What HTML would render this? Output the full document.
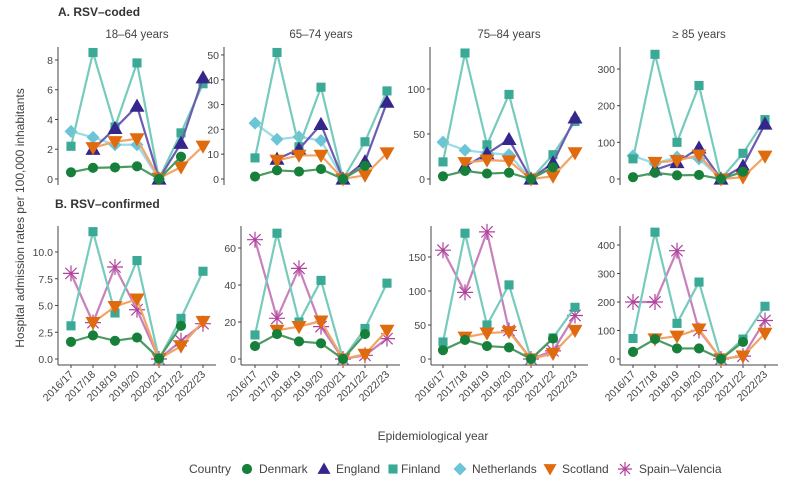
<!DOCTYPE html>
<html><head><meta charset="utf-8">
<style>
html,body{margin:0;padding:0;background:#fff;}
svg{display:block;font-family:"Liberation Sans",sans-serif;}
</style></head>
<body>
<svg id="chart" width="800" height="493" viewBox="0 0 800 493" xmlns="http://www.w3.org/2000/svg">
<text x="58" y="16" font-size="12" font-weight="bold" fill="#333">A. RSV–coded</text>
<text x="55" y="208" font-size="12" font-weight="bold" fill="#333">B. RSV–confirmed</text>
<text transform="translate(24,218) rotate(-90)" text-anchor="middle" font-size="12" fill="#444">Hospital admission rates per 100,000 inhabitants</text>
<text x="433" y="440" text-anchor="middle" font-size="12" fill="#444">Epidemiological year</text>
<g id="plots"></g>
<g id="legend"></g>
</svg>
<script>
const years = ["2016/17","2017/18","2018/19","2019/20","2020/21","2021/22","2022/23"];
const countries = ["Denmark","England","Finland","Netherlands","Scotland","Spain–Valencia"];
const ageGroups = ["18–64 years","65–74 years","75–84 years","≥ 85 years"];

// Row A: RSV-coded
const a1Denmark=[0.45,0.75,0.78,0.85,0,1.5,null];
const a1England=[null,2.0,3.4,4.9,0,2.4,6.8];
const a1Finland=[2.2,8.5,3.5,7.8,0,3.1,6.4];
const a1Netherlands=[3.2,2.8,2.3,2.3,0,null,null];
const a1Scotland=[null,2.1,2.5,2.7,0.05,0.8,2.2];
const a2Denmark=[1,3.5,3,4,0,5.3,null];
const a2England=[null,8,12,22,0,7,31];
const a2Finland=[8.5,51,13,37,0,15,35.5];
const a2Netherlands=[22.5,16,17,15.5,0,null,null];
const a2Scotland=[null,7.5,9.5,9.5,0,1.5,10.5];
const a3Denmark=[3,9,6,7,0,13,null];
const a3England=[null,14,28,44,0,18,68];
const a3Finland=[19,140,38,94,0,27,64];
const a3Netherlands=[41,32,29,27,0,null,null];
const a3Scotland=[null,18,21,20,0,3,29];
const a4Denmark=[5,17,10,11,0,20,null];
const a4England=[null,25,45,85,0,35,150];
const a4Finland=[55,340,100,255,0,70,162];
const a4Netherlands=[63,42,60,55,0,null,null];
const a4Scotland=[null,45,50,65,0,5,62];
// Row B: RSV-confirmed
const b1Denmark=[1.6,2.2,1.7,2.0,0.05,3.1,null];
const b1Finland=[3.1,11.9,4.3,9.2,0,3.8,8.2];
const b1Scotland=[null,3.4,4.9,5.6,0,1.2,3.5];
const b1Spain=[8.0,3.4,8.6,4.6,0,1.7,3.3];
const b2Denmark=[7,13.5,9.5,8.5,0,13.5,null];
const b2Finland=[13,68,20,42.5,0,16.5,41];
const b2Scotland=[null,15.5,17.5,20.5,0,2.5,15.5];
const b2Spain=[64.5,22,49,17.5,0,2,11];
const b3Denmark=[13,28,19,17,0,30,null];
const b3Finland=[25,185,50,109,0,31,76];
const b3Scotland=[null,32,38,40,0,8,42];
const b3Spain=[160,98,187,42,0,12,64];
const b4Denmark=[25,70,37,37,0,60,null];
const b4Finland=[72,445,125,270,0,70,185];
const b4Scotland=[null,70,80,105,0,10,90];
const b4Spain=[200,200,380,100,0,10,135];

const a1Ticks=[0,2,4,6,8], a2Ticks=[0,10,20,30,40,50], a3Ticks=[0,50,100], a4Ticks=[0,100,200,300];
const b1Ticks=[0,2.5,5,7.5,10], b2Ticks=[0,20,40,60], b3Ticks=[0,50,100,150], b4Ticks=[0,100,200,300,400];
const a1Max=8.87,a2Max=53.2,a3Max=146.7,a4Max=360;
const b1Max=12.43,b2Max=71.9,b3Max=195.6,b4Max=466.7;

const style={
 Denmark:{m:"#16803a",l:"#4a9a62",shape:"circle"},
 England:{m:"#34268a",l:"#6b5cb0",shape:"up"},
 Finland:{m:"#3aa996",l:"#76cbbd",shape:"square"},
 Netherlands:{m:"#6cc5d6",l:"#9bdbe6",shape:"diamond"},
 Scotland:{m:"#e06a0e",l:"#f0a567",shape:"down"},
 "Spain–Valencia":{m:"#b0429c",l:"#c880bd",shape:"star"}
};
const NS="http://www.w3.org/2000/svg";
function el(tag,attrs,parent){const e=document.createElementNS(NS,tag);for(const k in attrs)e.setAttribute(k,attrs[k]);parent.appendChild(e);return e;}
function marker(g,shape,x,y,c,sz){
 let e;
 if(shape==="circle") e=el("circle",{cx:x,cy:y,r:sz*0.78,fill:c},g);
 else if(shape==="square") e=el("rect",{x:x-sz*0.7,y:y-sz*0.7,width:sz*1.4,height:sz*1.4,fill:c},g);
 else if(shape==="diamond") e=el("polygon",{points:`${x},${y-sz} ${x+sz},${y} ${x},${y+sz} ${x-sz},${y}`,fill:c},g);
 else if(shape==="up") e=el("polygon",{points:`${x},${y-sz} ${x+sz},${y+sz*0.75} ${x-sz},${y+sz*0.75}`,fill:c},g);
 else if(shape==="down") e=el("polygon",{points:`${x},${y+sz} ${x+sz},${y-sz*0.75} ${x-sz},${y-sz*0.75}`,fill:c},g);
 else {
  const p=[];for(let i=0;i<4;i++){const a=i*Math.PI/4;p.push(`M${x-Math.cos(a)*sz},${y-Math.sin(a)*sz}L${x+Math.cos(a)*sz},${y+Math.sin(a)*sz}`);}
  e=el("path",{d:p.join(""),stroke:c,"stroke-width":1.2,fill:"none"},g);
 }
 return e;
}
const plots=document.getElementById("plots");
const pointStart=[71,255,443,633];
const rows=[
 {top:47,zero:179,bottomLine:false,axisLeft:[58,224,430,620],panels:[
  {max:a1Max,ticks:a1Ticks,dec:0,s:{Denmark:a1Denmark,England:a1England,Finland:a1Finland,Netherlands:a1Netherlands,Scotland:a1Scotland}},
  {max:a2Max,ticks:a2Ticks,dec:0,s:{Denmark:a2Denmark,England:a2England,Finland:a2Finland,Netherlands:a2Netherlands,Scotland:a2Scotland}},
  {max:a3Max,ticks:a3Ticks,dec:0,s:{Denmark:a3Denmark,England:a3England,Finland:a3Finland,Netherlands:a3Netherlands,Scotland:a3Scotland}},
  {max:a4Max,ticks:a4Ticks,dec:0,s:{Denmark:a4Denmark,England:a4England,Finland:a4Finland,Netherlands:a4Netherlands,Scotland:a4Scotland}}]},
 {top:226,zero:359,bottomLine:true,axisLeft:[58,241,431,620],panels:[
  {max:b1Max,ticks:b1Ticks,dec:1,s:{Denmark:b1Denmark,Finland:b1Finland,Scotland:b1Scotland,"Spain–Valencia":b1Spain}},
  {max:b2Max,ticks:b2Ticks,dec:0,s:{Denmark:b2Denmark,Finland:b2Finland,Scotland:b2Scotland,"Spain–Valencia":b2Spain}},
  {max:b3Max,ticks:b3Ticks,dec:0,s:{Denmark:b3Denmark,Finland:b3Finland,Scotland:b3Scotland,"Spain–Valencia":b3Spain}},
  {max:b4Max,ticks:b4Ticks,dec:0,s:{Denmark:b4Denmark,Finland:b4Finland,Scotland:b4Scotland,"Spain–Valencia":b4Spain}}]}
];
const drawOrder=["Spain–Valencia","Netherlands","Finland","England","Scotland","Denmark"];
rows.forEach((row,ri)=>{
 row.panels.forEach((p,pi)=>{
  const L=row.axisLeft[pi];
  const P0=pointStart[pi];
  const g=el("g",{},plots);
  
  
  const xs=i=>P0+i*22;
  const ys=v=>row.zero-v*(row.zero-row.top)/p.max;
  const axB=row.zero+6;
  el("line",{x1:L,y1:row.top,x2:L,y2:axB,stroke:"#444","stroke-width":1},g);
  if(row.bottomLine){
   el("line",{x1:L,y1:axB,x2:P0+145,y2:axB,stroke:"#444","stroke-width":1},g);
   years.forEach((yr,i)=>{
    el("line",{x1:xs(i),y1:axB,x2:xs(i),y2:axB+3,stroke:"#444"},g);
    const t=el("text",{x:xs(i)+3,y:axB+10,"text-anchor":"end","font-size":10.5,fill:"#444",transform:`rotate(-45 ${xs(i)+3} ${axB+10})`},g);
    t.textContent=yr;
    
    
   });
  }
  if(ri===0){
   const t=el("text",{x:P0+66,y:38,"text-anchor":"middle","font-size":11.5,fill:"#444"},g);
   t.textContent=ageGroups[pi];
   
   
  }
  p.ticks.forEach(v=>{
   el("line",{x1:L-3,y1:ys(v),x2:L,y2:ys(v),stroke:"#444"},g);
   const t=el("text",{x:L-5,y:ys(v)+4,"text-anchor":"end","font-size":10.5,fill:"#444"},g);
   t.textContent=v.toFixed(p.dec);
   
   
  });
  drawOrder.forEach(c=>{
   const d=p.s[c]; if(!d) return;
   const st=style[c];
   const sg=el("g",{},g);
   
   
   let path="",pen=false;
   d.forEach((v,i)=>{if(v==null){pen=false;return;}path+=(pen?"L":"M")+xs(i)+","+ys(v);pen=true;});
   el("path",{d:path,stroke:st.l,"stroke-width":2.2,fill:"none"},sg);
   d.forEach((v,i)=>{if(v==null)return;
    const m=marker(sg,st.shape,xs(i),ys(v),st.m,st.shape==="star"?8:st.shape==="up"||st.shape==="down"?7.5:6.5);
    
    
   });
  });
 });
});
// legend
const lg=document.getElementById("legend");
const lt=el("text",{x:189,y:473,"font-size":12,fill:"#444"},lg);
lt.textContent="Country";
const legendX=[247,324,393,460,550,625];
countries.forEach((c,i)=>{
 const st=style[c];
 const gi=el("g",{},lg);
 
 
 marker(gi,st.shape,legendX[i],469,st.m,st.shape==="star"?7:6.5);
 const t=el("text",{x:legendX[i]+(c==="Finland"?8:c==="Spain–Valencia"?14:12),y:473,"font-size":12,fill:"#444"},gi);
 t.textContent=c;
});
</script>
</body></html>
